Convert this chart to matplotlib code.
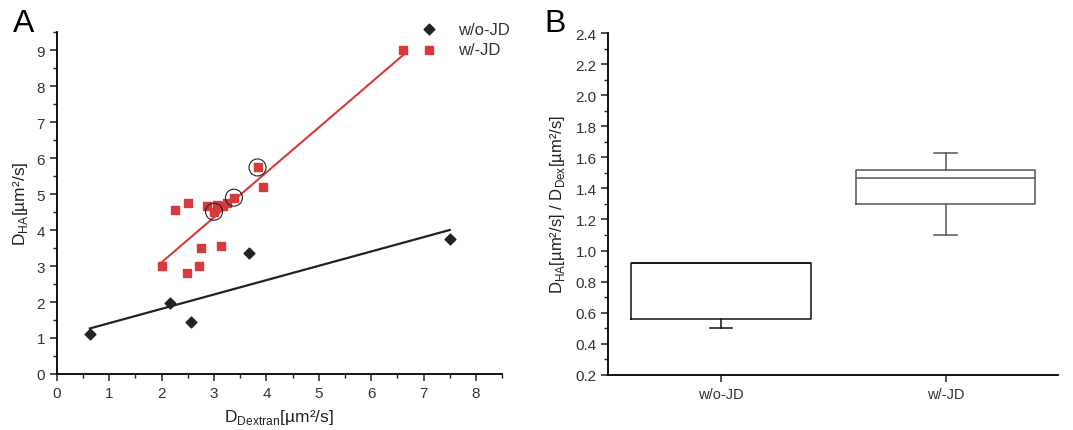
import numpy as np
import matplotlib
matplotlib.use('Agg')
import matplotlib.pyplot as plt
from matplotlib.ticker import MultipleLocator

plt.rcParams['font.family'] = ['Liberation Sans', 'DejaVu Sans']

# panel A data
wo_x = [0.63, 2.15, 2.56, 3.67, 7.50]
wo_y = [1.11, 1.98, 1.44, 3.37, 3.75]

w_x = [2.00, 2.25, 2.50, 2.48, 2.72, 2.75, 2.87, 3.00, 3.05, 3.14, 3.17, 3.25, 3.38, 3.83, 3.93, 6.61]
w_y = [3.00, 4.55, 4.75, 2.80, 3.00, 3.50, 4.68, 4.51, 4.70, 3.57, 4.67, 4.75, 4.90, 5.74, 5.20, 9.00]

# circled points
circ_x = [3.00, 3.38, 3.83]
circ_y = [4.51, 4.90, 5.74]

# panel B box stats
groups = ['w/o-JD', 'w/-JD']
q1 = [0.56, 1.30]
med = [0.92, 1.465]
q3 = [0.92, 1.52]
whislo = [0.50, 1.10]
whishi = [0.92, 1.625]

red = '#d63a3a'
tick_col = '#333333'

fig = plt.figure(figsize=(10.73, 4.31), dpi=100)
ax1 = fig.add_axes([0.053, 0.130, 0.415, 0.793])
ax2 = fig.add_axes([0.567, 0.128, 0.419, 0.793])

# --- A ---
ax1.scatter(wo_x, wo_y, marker='D', s=30, color='#222222', zorder=3, label='w/o-JD')
ax1.scatter(w_x, w_y, marker='s', s=36, color=red, zorder=3, label='w/-JD')
ax1.scatter(circ_x, circ_y, marker='o', s=150, facecolors='none',
            edgecolors='#222222', linewidths=0.8, zorder=4)

k, b = np.polyfit(wo_x, wo_y, 1)
xx = np.array([min(wo_x), max(wo_x)])
ax1.plot(xx, k * xx + b, color='#222222', lw=1.6, zorder=2)
k, b = np.polyfit(w_x, w_y, 1)
xx = np.array([min(w_x), max(w_x)])
ax1.plot(xx, k * xx + b, color=red, lw=1.5, zorder=2)

ax1.set_xlim(0, 8.5)
ax1.set_ylim(0, 9.5)
ax1.xaxis.set_major_locator(MultipleLocator(1))
ax1.xaxis.set_minor_locator(MultipleLocator(0.5))
ax1.yaxis.set_major_locator(MultipleLocator(1))
ax1.yaxis.set_minor_locator(MultipleLocator(0.5))
ax1.set_xlabel('D$_{\\mathregular{Dextran}}$[µm²/s]', fontsize=12.5, color='#222222', labelpad=5)
ax1.set_ylabel('D$_{\\mathregular{HA}}$[µm²/s]', fontsize=12.5, color='#222222', labelpad=5)
ax1.legend(loc='upper right', bbox_to_anchor=(1.05, 1.075), frameon=False,
           fontsize=12, handletextpad=0.7, labelspacing=0.35, labelcolor='#333333')

# --- B ---
stats = []
for i in range(len(groups)):
    stats.append({'q1': q1[i], 'med': med[i], 'q3': q3[i],
                  'whislo': whislo[i], 'whishi': whishi[i], 'label': groups[i]})
edge = ['#111111', '#555555']
bp = ax2.bxp(stats, positions=[1, 2], widths=0.8, showfliers=False,
             boxprops=dict(lw=1.1), medianprops=dict(lw=1.1),
             whiskerprops=dict(lw=1.1), capprops=dict(lw=1.1), capwidths=0.1)
for i in range(len(groups)):
    bp['boxes'][i].set_color(edge[i])
    bp['medians'][i].set_color(edge[i])
    for j in (2 * i, 2 * i + 1):
        bp['whiskers'][j].set_color(edge[i])
        bp['caps'][j].set_color(edge[i])
# hide the zero-length upper whisker cap of w/o-JD
bp['caps'][1].set_visible(False)

ax2.set_xlim(0.5, 2.5)
ax2.set_ylim(0.2, 2.4)
ax2.yaxis.set_major_locator(MultipleLocator(0.2))
ax2.yaxis.set_minor_locator(MultipleLocator(0.1))
ax2.yaxis.set_major_formatter(plt.FormatStrFormatter('%.1f'))
ax2.set_ylabel('D$_{\\mathregular{HA}}$[µm²/s] / D$_{\\mathregular{Dex}}$[µm²/s]',
               fontsize=12, color='#222222', labelpad=6)

for ax in (ax1, ax2):
    ax.spines['top'].set_visible(False)
    ax.spines['right'].set_visible(False)
    ax.spines['left'].set_linewidth(1.3)
    ax.spines['bottom'].set_linewidth(1.3)
    ax.tick_params(which='major', direction='out', length=5, width=1.1,
                   labelsize=11, colors='#222222', labelcolor=tick_col)
    ax.tick_params(which='minor', direction='out', length=3, width=1.0, colors='#222222')
ax2.tick_params(axis='x', which='minor', bottom=False)
ax2.tick_params(axis='x', labelsize=10.5)

fig.text(0.012, 0.978, 'A', fontsize=23, va='top', ha='left')
fig.text(0.507, 0.978, 'B', fontsize=23, va='top', ha='left')

fig.savefig('out.png', dpi=100)
